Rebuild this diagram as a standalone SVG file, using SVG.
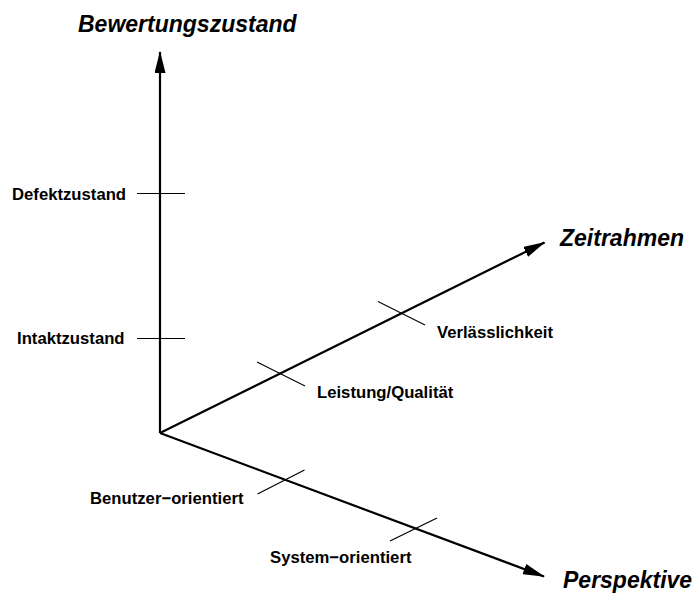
<svg xmlns="http://www.w3.org/2000/svg" width="692" height="593" viewBox="0 0 692 593">
  <style>
    .axis { stroke: #000; stroke-width: 2.2; fill: none; }
    .tick { stroke: #000; stroke-width: 1.2; fill: none; }
    .big { font-family: "Liberation Sans", Arial, sans-serif; font-weight: bold; font-style: italic; font-size: 23px; fill: #000; }
    .lbl { font-family: "Liberation Sans", Arial, sans-serif; font-weight: bold; font-size: 16.7px; fill: #000; }
  </style>
  <defs>
    <marker id="arrow" markerUnits="userSpaceOnUse" markerWidth="22" markerHeight="11" refX="21" refY="5.5" orient="auto">
      <path d="M0,0 L22,5.5 L0,11 z" fill="#000"/>
    </marker>
  </defs>
  <rect width="692" height="593" fill="#fff"/>
  <g id="connectors">
    <line class="axis" x1="160" y1="433" x2="160" y2="52" marker-end="url(#arrow)"/>
    <line class="axis" x1="160" y1="433" x2="544.5" y2="242.5" marker-end="url(#arrow)"/>
    <line class="axis" x1="160" y1="433" x2="544" y2="576.5" marker-end="url(#arrow)"/>
  </g>
  <g id="axis-bewertungszustand">
    <text class="big" x="78" y="32">Bewertungszustand</text>
  </g>
  <g id="axis-zeitrahmen">
    <text class="big" x="560" y="246">Zeitrahmen</text>
  </g>
  <g id="axis-perspektive">
    <text class="big" x="563" y="588">Perspektive</text>
  </g>
  <g id="defektzustand">
    <line class="tick" x1="137" y1="193.5" x2="185" y2="193.5"/>
    <text class="lbl" x="12" y="200">Defektzustand</text>
  </g>
  <g id="intaktzustand">
    <line class="tick" x1="137" y1="338.5" x2="185" y2="338.5"/>
    <text class="lbl" x="17" y="344">Intaktzustand</text>
  </g>
  <g id="leistung">
    <line class="tick" x1="257" y1="362" x2="305" y2="386"/>
    <text class="lbl" x="317" y="398">Leistung/Qualität</text>
  </g>
  <g id="verlaesslichkeit">
    <line class="tick" x1="378" y1="301.5" x2="425" y2="325"/>
    <text class="lbl" x="437" y="337.5">Verlässlichkeit</text>
  </g>
  <g id="benutzer">
    <line class="tick" x1="257.5" y1="494" x2="304.5" y2="470"/>
    <text class="lbl" x="90" y="504">Benutzer−orientiert</text>
  </g>
  <g id="system">
    <line class="tick" x1="390" y1="541" x2="437" y2="518"/>
    <text class="lbl" x="270" y="563">System−orientiert</text>
  </g>
</svg>
